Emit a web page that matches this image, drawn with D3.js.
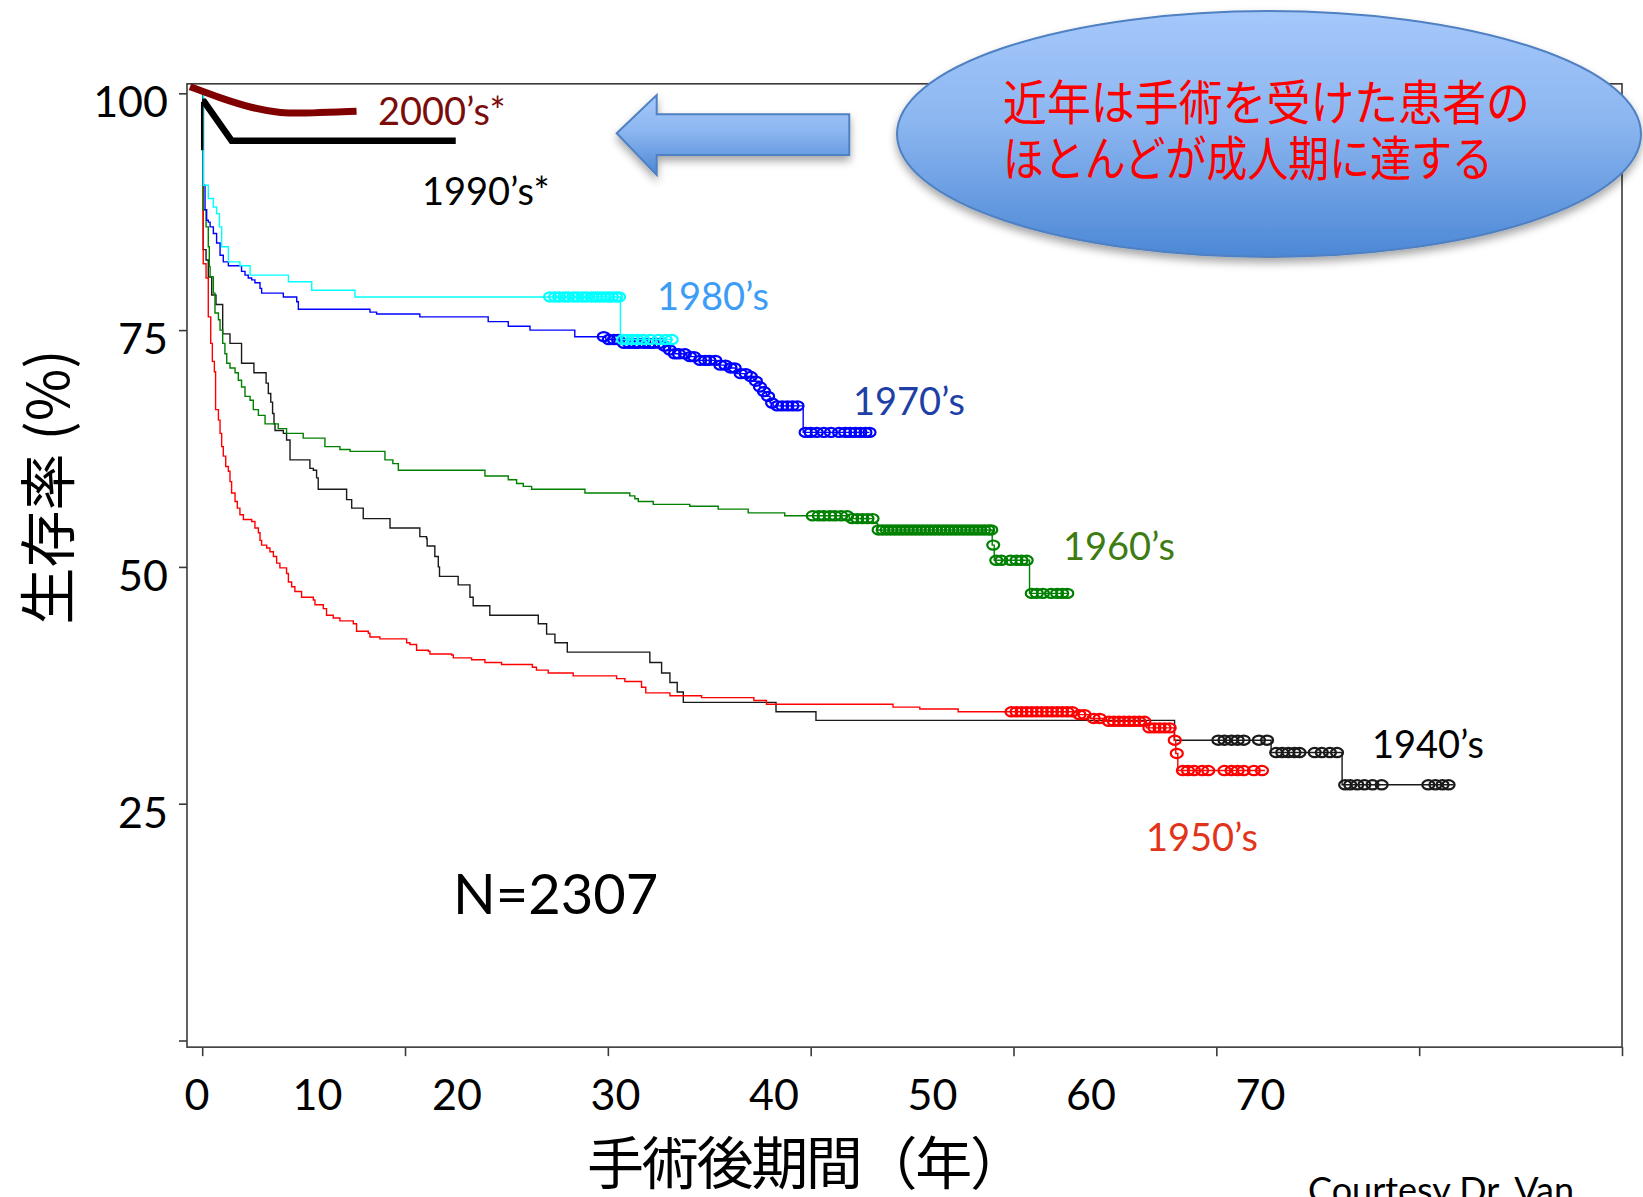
<!DOCTYPE html>
<html>
<head>
<meta charset="utf-8">
<script src="https://d3js.org/d3.v7.min.js"></script>
<style>
  body { margin: 0; background: #fff; }
</style>
</head>
<body>
<div id="km-chart"></div>
<script>
// ---- data (years after surgery, survival %) ----
const t1940 = [0, 0.05, 0.19, 0.3, 0.47, 0.68, 1.01, 1.37, 1.94, 2.55, 3.15, 3.26, 3.38, 3.47, 3.54, 3.59, 4.0, 4.16, 4.33, 5.31, 5.48, 5.64, 5.72, 7.12, 7.37, 7.94, 9.26, 10.73, 11.06, 11.09, 11.47, 11.64, 11.7, 12.62, 13.2, 13.36, 14.18, 16.57, 16.98, 17.39, 18.0, 22.07, 22.65, 23.06, 23.42, 23.72, 28.29, 30.26, 47.94, 52.7, 56.2];
const s1940 = [100, 83.5, 82.4, 80.6, 78.7, 77.7, 74.6, 73.6, 71.5, 70.5, 69.4, 68.3, 67.4, 66.2, 65.1, 64.4, 64.1, 63.4, 61.3, 60.4, 60.2, 59.4, 58.2, 57.1, 56.2, 55.1, 54.1, 53.2, 53.0, 52.2, 51.1, 50.0, 49.0, 48.1, 46.8, 45.9, 44.9, 44.0, 42.9, 42.0, 41.0, 39.9, 38.8, 37.8, 36.8, 35.7, 34.7, 33.8, 31.7, 30.4, 27.0];
const end1940 = 61.7;
const c1940 = [50.1, 50.4, 50.75, 51.05, 51.35, 52.1, 52.5, 52.95, 53.25, 53.55, 53.85, 54.1, 54.85, 55.2, 55.6, 55.95, 56.35, 56.6, 56.95, 57.3, 57.7, 58.15, 60.45, 60.8, 61.15, 61.45];

const t1950 = [0, 0.05, 0.19, 0.3, 0.42, 0.5, 0.6, 0.66, 0.8, 0.88, 0.96, 1.04, 1.16, 1.29, 1.37, 1.45, 1.62, 1.73, 1.86, 2.03, 2.44, 2.6, 2.77, 2.85, 2.93, 3.18, 3.34, 3.51, 3.67, 3.83, 4.16, 4.25, 4.41, 4.57, 4.9, 5.48, 5.56, 5.97, 6.13, 6.46, 6.79, 7.45, 7.61, 8.19, 8.27, 8.76, 10.08, 10.24, 10.57, 11.15, 11.23, 12.3, 12.38, 13.28, 13.94, 14.76, 16.28, 16.48, 17.06, 18.29, 20.43, 20.84, 21.66, 21.87, 23.06, 24.62, 27.2, 27.82, 34.06, 35.38, 37.27, 43.1, 43.8, 44.57, 46.55, 47.92, 48.0, 48.1];
const s1950 = [100, 82.0, 80.5, 76.4, 73.6, 71.7, 70.6, 66.6, 65.5, 64.1, 62.7, 61.7, 60.6, 60.1, 59.0, 57.8, 56.9, 56.2, 55.5, 55.0, 54.8, 54.1, 53.6, 52.8, 52.3, 52.0, 51.6, 51.1, 50.4, 49.9, 49.3, 48.4, 47.9, 47.4, 46.8, 46.5, 46.0, 45.6, 44.9, 44.6, 44.3, 44.0, 43.2, 43.0, 42.6, 42.4, 42.0, 41.8, 41.2, 41.1, 40.8, 40.7, 40.4, 40.2, 39.9, 39.7, 39.4, 39.1, 38.8, 38.5, 38.2, 37.9, 37.3, 36.7, 36.4, 36.2, 35.9, 35.5, 35.2, 35.0, 34.7, 34.4, 34.0, 33.7, 33.0, 31.7, 30.3, 28.5];
const end1950 = 52.4;
const c1950 = [39.9, 40.15, 40.4, 40.65, 40.9, 41.15, 41.4, 41.65, 41.9, 42.15, 42.4, 42.65, 42.9, 43.25, 43.5, 43.95, 44.25, 44.7, 44.95, 45.2, 45.45, 45.7, 45.95, 46.2, 46.45, 46.7, 46.95, 47.2, 47.45, 47.7, 47.95, 48.05, 48.35, 48.6, 48.9, 49.3, 49.6, 50.4, 50.75, 51.05, 51.35, 51.85, 52.25];

const t1960 = [0, 0.05, 0.19, 0.3, 0.35, 0.39, 0.55, 0.63, 0.8, 0.88, 1.01, 1.12, 1.21, 1.37, 1.62, 1.78, 1.94, 2.11, 2.36, 2.52, 2.77, 3.1, 3.75, 4.16, 4.98, 6.05, 6.79, 7.29, 9.01, 9.4, 9.67, 13.94, 15.09, 15.5, 15.83, 16.24, 18.87, 21.08, 21.33, 21.5, 22.24, 24.04, 25.44, 26.92, 28.72, 31.9, 33.08, 33.3, 38.95, 39.05, 40.79];
const s1960 = [100, 87.7, 85.9, 83.8, 81.7, 80.6, 78.9, 76.8, 76.1, 75.0, 73.6, 72.5, 71.5, 71.0, 70.5, 69.7, 69.0, 68.0, 67.6, 66.6, 66.0, 65.1, 64.6, 64.1, 63.6, 62.7, 62.4, 62.2, 61.3, 60.9, 60.2, 59.6, 59.2, 58.8, 58.5, 58.2, 57.8, 57.5, 57.2, 56.9, 56.6, 56.4, 56.1, 55.7, 55.4, 55.1, 54.6, 53.9, 52.3, 50.7, 47.2];
const end1960 = 42.7;
const c1960 = [30.1, 30.4, 30.65, 30.95, 31.2, 31.5, 31.8, 32.05, 32.3, 32.55, 32.8, 33.05, 33.35, 33.55, 33.75, 33.95, 34.15, 34.35, 34.55, 34.75, 34.95, 35.15, 35.35, 35.55, 35.75, 35.95, 36.15, 36.35, 36.55, 36.75, 36.95, 37.15, 37.35, 37.55, 37.75, 37.95, 38.15, 38.35, 38.55, 38.75, 38.9, 39.0, 39.15, 39.4, 39.85, 40.15, 40.4, 40.65, 40.9, 41.15, 41.45, 41.85, 42.15, 42.4, 42.65];

const t1970 = [0, 0.06, 0.14, 0.22, 0.3, 0.39, 0.55, 0.71, 0.88, 1.04, 1.29, 1.94, 2.11, 2.27, 2.44, 2.6, 2.85, 2.93, 4.0, 4.66, 4.74, 8.27, 8.6, 10.73, 14.1, 15.09, 16.16, 18.37, 19.9, 20.75, 22.73, 23.0, 23.22, 23.88, 24.3, 25.36, 25.85, 26.3, 26.83, 27.2, 27.49, 27.7, 27.82, 28.0, 28.15, 29.63];
const s1970 = [100, 90.3, 87.7, 86.6, 86.4, 85.9, 85.2, 84.2, 82.9, 82.2, 81.8, 81.2, 80.8, 80.5, 80.3, 80.0, 79.4, 78.9, 78.5, 78.0, 77.2, 76.9, 76.7, 76.4, 75.9, 75.4, 75.0, 74.3, 74.0, 73.6, 73.3, 72.9, 72.5, 72.2, 71.8, 71.3, 71.0, 70.4, 70.1, 69.6, 69.0, 68.5, 68.0, 67.3, 67.0, 64.2];
const end1970 = 32.9;
const c1970 = [19.8, 20.05, 20.3, 20.5, 20.8, 21.05, 21.3, 21.5, 21.8, 22.05, 22.25, 22.55, 22.8, 23.05, 23.3, 23.5, 23.8, 24.05, 24.25, 24.55, 24.8, 25.0, 25.3, 25.55, 25.8, 26.05, 26.25, 26.55, 26.8, 27.05, 27.3, 27.5, 27.7, 27.9, 28.1, 28.35, 28.6, 28.85, 29.1, 29.35, 29.75, 30.0, 30.3, 30.65, 31.0, 31.4, 31.7, 31.95, 32.2, 32.45, 32.7, 32.9];

const t1980 = [0, 0.06, 0.3, 0.55, 0.71, 0.85, 0.96, 1.29, 1.86, 2.36, 4.25, 5.4, 7.53, 20.62];
const s1980 = [100, 90.3, 88.9, 88.0, 87.3, 85.9, 83.8, 82.2, 81.8, 80.8, 80.1, 79.2, 78.5, 74.0];
const end1980 = 23.2;
const c1980 = [17.15, 17.4, 17.6, 17.85, 18.05, 18.3, 18.5, 18.75, 18.95, 19.2, 19.4, 19.6, 19.8, 20.0, 20.2, 20.4, 20.55, 20.75, 20.95, 21.2, 21.45, 21.75, 22.1, 22.5, 22.85, 23.15];

// hand drawn summary lines for recent decades
const t1990 = [0, 0, 0.1, 1.45, 12.5];
const s1990 = [94.0, 99.1, 99.1, 95.0, 95.0];
const t2000 = [-0.6, 0.88, 2.52, 3.83, 5.31, 7.61];
const s2000 = [100.7, 99.5, 98.4, 97.9, 97.9, 98.1];

const xTicks = [0, 10, 20, 30, 40, 50, 60, 70];
const yTicks = [0, 25, 50, 75, 100];
const xTickLabels = ["0", "10", "20", "30", "40", "50", "60", "70"];

// ---- layout ----
const W = 1643, H = 1197;
const latin = "Lato, 'Open Sans', sans-serif";
const jp = "'Noto Sans CJK JP', 'Noto Sans CJK SC', sans-serif";

const svg = d3
  .select("#km-chart")
  .append("svg")
  .attr("width", W)
  .attr("height", H);

const x = d3.scaleLinear().domain([0, 70]).range([202.2, 1622]);
const y = d3.scaleLinear().domain([0, 100]).range([1040.5, 93.3]);
// tick labels were placed by hand on the slide, not under the ticks
const labelX = d3.scaleLinear().domain([0, 10, 20, 60, 70]).range([197, 317.5, 457, 1091, 1260.5]);

const defs = svg.append("defs");
const grad = defs.append("linearGradient").attr("id", "blueGrad")
  .attr("x1", 0).attr("y1", 0).attr("x2", 0).attr("y2", 1);
grad.append("stop").attr("offset", "0%").attr("stop-color", "#a5c8fb");
grad.append("stop").attr("offset", "45%").attr("stop-color", "#8cb6f0");
grad.append("stop").attr("offset", "100%").attr("stop-color", "#4c88d6");
const shadow = defs.append("filter").attr("id", "shadow")
  .attr("x", "-10%").attr("y", "-10%").attr("width", "120%").attr("height", "130%");
shadow.append("feDropShadow").attr("dx", 0).attr("dy", 5).attr("stdDeviation", 4)
  .attr("flood-color", "#000").attr("flood-opacity", 0.35);

// frame
svg.append("rect")
  .attr("x", x(-0.75)).attr("y", y(101))
  .attr("width", x(70) - x(-0.75)).attr("height", y(-0.7) - y(101))
  .attr("fill", "none").attr("stroke", "#3a3a3a").attr("stroke-width", 1.6);

// y axis ticks + labels
const yAxis = svg.append("g")
  .attr("transform", `translate(${x(-0.75)},0)`)
  .call(d3.axisLeft(y).tickValues(yTicks).tickSize(8).tickPadding(11)
    .tickFormat(d => d === 0 ? "" : d));
yAxis.select(".domain").remove();
yAxis.selectAll("line").attr("stroke", "#3a3a3a").attr("stroke-width", 1.6);
yAxis.selectAll("text")
  .attr("dy", "0.55em")
  .style("font-family", latin).style("font-size", "43px").attr("fill", "#000");

// x axis ticks (labels drawn separately)
const xAxis = svg.append("g")
  .attr("transform", `translate(0,${y(-0.7)})`)
  .call(d3.axisBottom(x).tickValues(xTicks).tickSize(9).tickFormat(""));
xAxis.select(".domain").remove();
xAxis.selectAll("line").attr("stroke", "#3a3a3a").attr("stroke-width", 1.6);

svg.append("g").selectAll("text")
  .data(xTicks)
  .enter()
  .append("text")
  .attr("x", d => labelX(d))
  .attr("y", 1110)
  .attr("text-anchor", "middle")
  .style("font-family", latin).style("font-size", "43px")
  .text((d, i) => xTickLabels[i]);

// axis titles
svg.append("text")
  .attr("x", 807).attr("y", 1184)
  .attr("text-anchor", "middle")
  .attr("textLength", 440).attr("lengthAdjust", "spacing")
  .style("font-family", jp).style("font-size", "57px")
  .text("手術後期間（年）");
svg.append("text")
  .attr("transform", "translate(69,487) rotate(-90)")
  .attr("text-anchor", "middle")
  .style("font-family", jp).style("font-size", "57px")
  .text("生存率 (%)");

// ---- survival curves ----
const series = [
  { t: t1940, s: s1940, end: end1940, c: c1940, color: "#1a1a1a" },
  { t: t1950, s: s1950, end: end1950, c: c1950, color: "#ff0000" },
  { t: t1960, s: s1960, end: end1960, c: c1960, color: "#008000" },
  { t: t1970, s: s1970, end: end1970, c: c1970, color: "#0000ff" },
  { t: t1980, s: s1980, end: end1980, c: c1980, color: "#00ffff" },
];

const stepLine = d3.line()
  .x(d => x(d[0]))
  .y(d => y(d[1]))
  .curve(d3.curveStepAfter);

// survival value at time tt (last step at or before tt)
function survAt(sr, tt) {
  const i = d3.bisectRight(sr.t, tt) - 1;
  return sr.s[Math.max(i, 0)];
}

series.forEach(function (sr) {
  const pts = sr.t.map((tt, i) => [tt, sr.s[i]]);
  pts.push([sr.end, sr.s[sr.s.length - 1]]);
  svg.append("path")
    .attr("d", stepLine(pts))
    .attr("fill", "none")
    .attr("stroke", sr.color)
    .attr("stroke-width", 1.4);
  // censored marks
  svg.append("g").selectAll("ellipse")
    .data(sr.c)
    .enter()
    .append("ellipse")
    .attr("cx", d => x(d))
    .attr("cy", d => y(survAt(sr, d)))
    .attr("rx", 6)
    .attr("ry", 4.6)
    .attr("fill", "none")
    .attr("stroke", sr.color)
    .attr("stroke-width", 2.2);
});

// 1990's and 2000's (thick)
const p1990 = t1990.map((tt, i) => [tt, s1990[i]]);
svg.append("path")
  .attr("d", d3.line().x(d => x(d[0])).y(d => y(d[1]))(p1990.slice(0, 2)))
  .attr("stroke", "#000").attr("stroke-width", 2.5).attr("fill", "none");
svg.append("path")
  .attr("d", d3.line().x(d => x(d[0])).y(d => y(d[1]))(p1990.slice(1)))
  .attr("stroke", "#000").attr("stroke-width", 6.5).attr("fill", "none");

const p2000 = t2000.map((tt, i) => [tt, s2000[i]]);
svg.append("path")
  .attr("d", d3.line().x(d => x(d[0])).y(d => y(d[1])).curve(d3.curveBasis)(p2000))
  .attr("stroke", "#800000").attr("stroke-width", 7).attr("fill", "none")
  .attr("stroke-linecap", "butt");

// ---- series labels ----
const labels = [
  { text: "2000’s*", x: 378, y: 125, color: "#7a0c0c" },
  { text: "1990’s*", x: 422, y: 205, color: "#000" },
  { text: "1980’s", x: 657, y: 310, color: "#3d9cf5" },
  { text: "1970’s", x: 853, y: 415, color: "#1e3fa6" },
  { text: "1960’s", x: 1063, y: 560, color: "#3e7b12" },
  { text: "1940’s", x: 1372, y: 758, color: "#000" },
  { text: "1950’s", x: 1146, y: 851, color: "#e2341b" },
];
svg.append("g").selectAll("text")
  .data(labels)
  .enter()
  .append("text")
  .attr("x", d => d.x)
  .attr("y", d => d.y)
  .attr("fill", d => d.color)
  .style("font-family", latin)
  .style("font-size", "38px")
  .text(d => d.text);

svg.append("text")
  .attr("x", 453).attr("y", 914)
  .style("font-family", latin).style("font-size", "56px")
  .text("N=2307");

svg.append("text")
  .attr("x", 1308).attr("y", 1203)
  .style("font-family", latin).style("font-size", "36px")
  .text("Courtesy Dr. Van");

// ---- arrow + callout ----
svg.append("path")
  .attr("d", "M616.7,133.3 L656.7,95 L656.7,114.3 L849.3,114.3 L849.3,155 L656.7,155 L656.7,175 Z")
  .attr("fill", "url(#blueGrad)")
  .attr("stroke", "#4f80c2")
  .attr("stroke-width", 2)
  .attr("filter", "url(#shadow)");

svg.append("ellipse")
  .attr("cx", 1269).attr("cy", 134)
  .attr("rx", 372).attr("ry", 123)
  .attr("fill", "url(#blueGrad)")
  .attr("stroke", "#4f80c2")
  .attr("stroke-width", 2)
  .attr("filter", "url(#shadow)");

svg.append("text")
  .attr("x", 1003).attr("y", 120)
  .attr("textLength", 527).attr("lengthAdjust", "spacingAndGlyphs")
  .attr("fill", "#ff0000")
  .style("font-family", jp).style("font-size", "48px")
  .text("近年は手術を受けた患者の");
svg.append("text")
  .attr("x", 1003).attr("y", 176)
  .attr("textLength", 490).attr("lengthAdjust", "spacingAndGlyphs")
  .attr("fill", "#ff0000")
  .style("font-family", jp).style("font-size", "48px")
  .text("ほとんどが成人期に達する");
</script>
</body>
</html>
